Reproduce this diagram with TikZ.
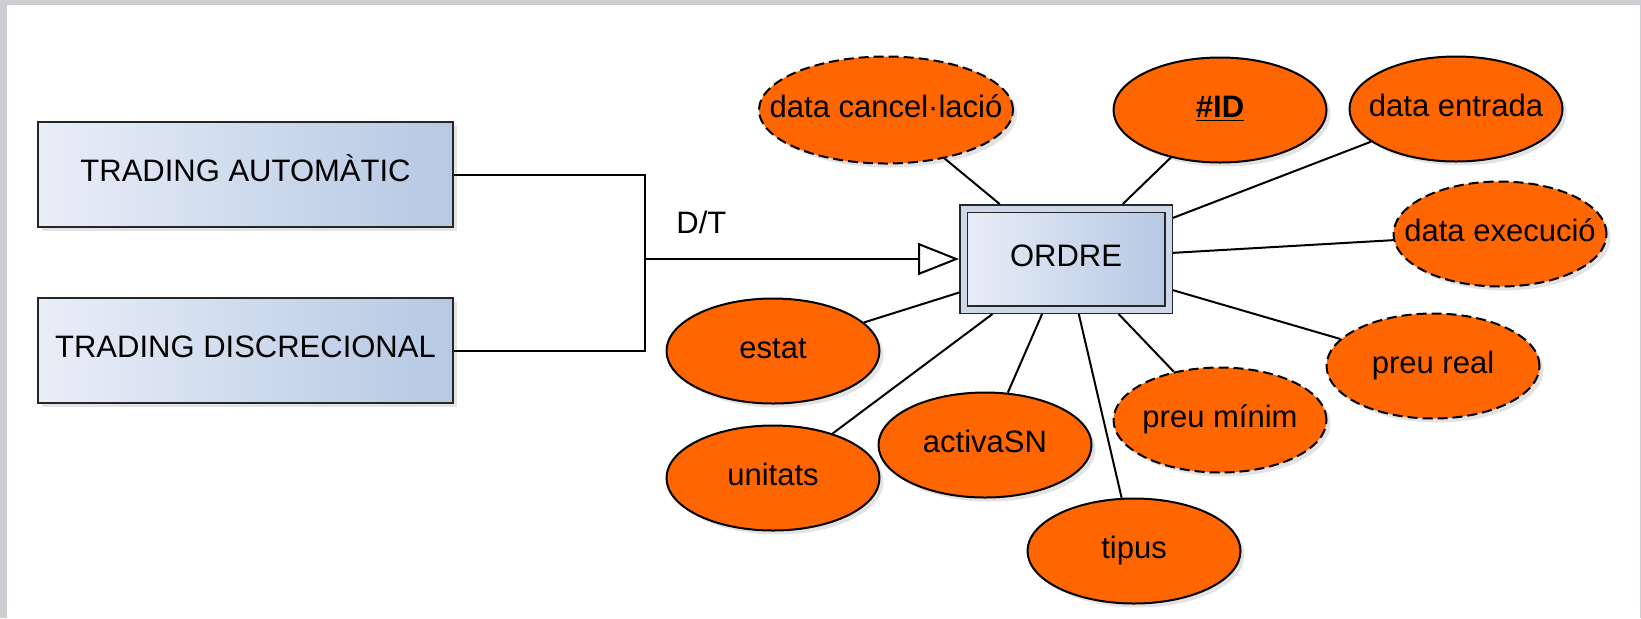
\documentclass[tikz,border=0pt]{standalone}
\usepackage{fontspec}
\setmainfont{Liberation Sans}
\usetikzlibrary{shapes.geometric,arrows.meta,shadows}
\definecolor{tangerine}{RGB}{255, 102, 0}
\definecolor{frost}{RGB}{232, 238, 247}
\definecolor{steel}{RGB}{182, 200, 227}
\definecolor{haze}{RGB}{204, 216, 234}
\definecolor{frame}{RGB}{205, 205, 210}
\newcommand{\slim}[1]{\makebox[0pt]{#1}}

\tikzset{
    label text/.style={text height=0.72em, text depth=0pt, inner sep=0pt},
    entity/.style={label text, draw=black!85, line width=1pt, left color=frost, right color=steel,
        minimum width=207.5pt, minimum height=52.5pt,
        drop shadow={opacity=0.22, shadow xshift=2pt, shadow yshift=-2pt}},
    attrib/.style={label text, ellipse, draw=black, line width=1pt, fill=tangerine,
        minimum width=106.5pt, minimum height=52.5pt,
        drop shadow={opacity=0.22, shadow xshift=2pt, shadow yshift=-2pt}},
    optattrib/.style={attrib, dash pattern=on 5pt off 2.5pt},
    link/.style={line width=1pt, black}
}

\begin{document}
\begin{tikzpicture}[x=0.5pt, y=-0.5pt, font=\fontsize{15.5}{18}\selectfont]
    \useasboundingbox (0,0) rectangle (1641,618);
    \fill[frame]  (0,0) rectangle (1641,618);
    \fill[white]  (7,5) rectangle (1640,618);
    % subclasses
    \node[entity] (automatic) at (245.5,174.5) {TRADING AUTOMÀTIC};
    \node[entity] (discretion) at (245.5,350.5) {TRADING DISCRECIONAL};
    % superclass
    \node[entity, double=haze, double distance=3pt, line width=0.75pt,
          minimum width=102.5pt, minimum height=50.5pt, outer sep=2.25pt] (ordre) at (1066,259) {ORDRE};
    \coordinate (join) at (645,259);
    \draw[link] (automatic.east) -| (join);
    \draw[link] (discretion.east) -| (join);
    \draw[link, -{Triangle[fill=white, length=20.5pt, width=16pt]}] (join) -- (ordre.west);
    \node[label text, anchor=base west] (dt) at (676,233) {D/T};
    % attributes
    \node[optattrib, minimum width=127pt, minimum height=53.5pt] (cancel) at (886,110) {\slim{data cancel·lació}};
    \node[attrib]    (id)        at (1220,110) {\slim{\bfseries\underline{\#ID}}};
    \node[attrib]    (entrada)   at (1456,109) {\slim{data entrada}};
    \node[optattrib] (execucio)  at (1500,234) {\slim{data execució}};
    \node[optattrib] (preureal)  at (1433,366) {\slim{preu real}};
    \node[optattrib] (preumin)   at (1220,420) {\slim{preu mínim}};
    \node[attrib]    (tipus)     at (1134,551) {\slim{tipus}};
    \node[attrib]    (activa)    at (985,445)  {\slim{activaSN}};
    \node[attrib]    (unitats)   at (773,478)  {\slim{unitats}};
    \node[attrib]    (estat)     at (773,351)  {\slim{estat}};
    \foreach \attr in {cancel, id, entrada, execucio, preureal, preumin, tipus, activa, unitats, estat}
        \draw[link] (\attr) -- (ordre);
\end{tikzpicture}
\end{document}
